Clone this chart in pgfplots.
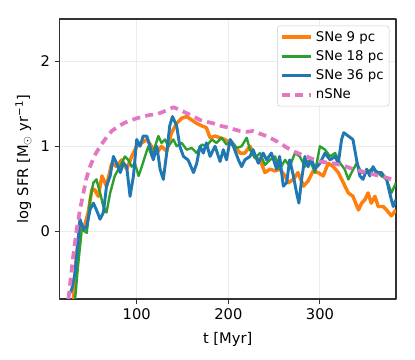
\documentclass[border=0pt]{standalone}
\usepackage{pgfplots}
\pgfplotsset{compat=1.18}
\usepackage{fontspec}
\setmainfont{DejaVu Sans}
\definecolor{c9}{HTML}{FF7F0E}
\definecolor{c18}{HTML}{2CA02C}
\definecolor{c36}{HTML}{1F77B4}
\definecolor{cn}{HTML}{E377C2}

\begin{document}
\begin{tikzpicture}
\path (-44.5pt,-45.5pt) rectangle (266.75pt,224.25pt);
\begin{axis}[
    scale only axis,
    width=252.5pt, height=210pt,
    at={(0,0)}, anchor=south west,
    xmin=15.5, xmax=383, ymin=-0.8, ymax=2.5,
    xtick={100,200,300}, ytick={0,1,2},
    axis line style={black!80, line width=0.8pt},
    tick style={black!80, line width=0.8pt},
    tick align=outside, tick pos=left,
    major tick length=3.5pt,
    grid=major, major grid style={black!8, line width=0.8pt},
    /pgf/number format/assume math mode=true,
    ticklabel style={font=\fontsize{11}{13}\selectfont},
    label style={font=\fontsize{11}{13}\selectfont},
    xlabel={t [Myr]},
    xlabel style={yshift=-3pt},
    ylabel={log SFR [M\textsubscript{$\odot$} yr\textsuperscript{−1}]},
    legend style={at={(rel axis cs:1,1)}, xshift=-5pt, yshift=-5pt, anchor=north east,
        draw=black!20, rounded corners=2pt, fill=white, fill opacity=0.9, text opacity=1,
        font=\fontsize{10}{12}\selectfont, row sep=1.5pt, inner xsep=2pt},
    legend cell align=left,
    legend image code/.code={\draw[#1] (0pt,0pt) -- (22pt,0pt);},
    line join=round,
]
\addplot[c9, line width=2.6pt] coordinates {
(31,-0.8) (34,-0.3) (38,0.06) (42,0.02) (47,0.22) (51,0.49) (54,0.49) (58,0.41)
(62,0.65) (67,0.53) (72.7,0.8) (78,0.76) (83.6,0.84) (89,0.73) (94.5,0.88) (100,1.0)
(105.5,1.04) (111,1.08) (116,1.0) (122,0.92) (127,1.0) (132.7,0.94) (138,1.16) (143.6,1.27)
(149,1.33) (154.5,1.35) (160,1.31) (165.5,1.27) (171,1.24) (176,1.22) (180,1.10) (185.5,1.12)
(191,1.10) (196,1.08) (202,1.04) (207,1.0) (212.7,0.92) (218,0.92) (223.6,1.0) (229,0.88)
(234.5,0.84) (240,0.69) (245.5,0.73) (251,0.71) (256,0.73) (262,0.65) (265.5,0.57) (271,0.61)
(276,0.69) (282,0.53) (287,0.59) (292.7,0.71) (298,0.69) (303.6,0.65) (309,0.80) (314.5,0.76)
(320,0.69) (325.5,0.57) (331,0.45) (336,0.41) (342,0.25) (345.5,0.33) (349,0.37) (352.5,0.45)
(356,0.33) (360,0.41) (363.6,0.29) (369,0.29) (372.7,0.25) (378,0.18) (383,0.25)
};
\addlegendentry{SNe 9 pc}
\addplot[c18, line width=1.8pt] coordinates {
(32.7,-0.8) (36,-0.4) (40,0.02) (45.5,-0.02) (49,0.37) (52.7,0.57) (56,0.61) (60,0.45)
(63.6,0.29) (67,0.22) (71,0.45) (76,0.65) (80,0.73) (83.6,0.8) (87,0.88) (90.7,0.84)
(94.5,0.76) (98,0.8) (102,0.65) (105.5,0.76) (109,0.88) (112.7,1.0) (116.4,0.88) (120,1.0)
(123.6,1.12) (127,1.04) (131,1.08) (134.5,1.0) (140,1.08) (143.6,1.0) (149,1.04) (154.5,0.96)
(160,0.98) (165.5,0.92) (171,1.02) (176,1.0) (182,1.08) (187,1.04) (192.7,1.10) (198,1.02)
(203.6,1.06) (209,0.98) (214.5,1.0) (220,1.10) (223.6,0.96) (229,0.86) (234.5,0.92) (240,0.78)
(245.5,0.84) (251,0.88) (256,0.73) (262,0.84) (267,0.76) (272.7,0.92) (278,0.88) (283.6,0.76)
(289,0.84) (294.5,0.69) (300,1.0) (305.5,0.96) (311,0.88) (316.5,0.92) (322,0.80) (327,0.73)
(331,0.61) (334.5,0.69) (340,0.8) (345.5,0.69) (351,0.69) (356,0.73) (361.5,0.71) (367,0.65)
(372.7,0.61) (378,0.45) (383,0.57)
};
\addlegendentry{SNe 18 pc}
\addplot[c36, line width=2.2pt] coordinates {
(25.5,-0.76) (29,-0.69) (32.7,-0.49) (36.4,-0.06) (38,0.14) (42,0.02) (45.5,0.06) (49,0.25)
(52.7,0.33) (56,0.25) (60,0.14) (63.6,0.22) (67,0.53) (71,0.65) (74.5,0.88) (78,0.8)
(82,0.69) (85.5,0.8) (89,0.76) (92.7,0.41) (96.4,0.65) (100,1.08) (103.6,1.0) (107,1.12)
(111,1.12) (114.5,1.0) (118,0.84) (122,1.0) (125.5,0.73) (129,0.61) (132.7,0.92) (136,1.24)
(139,1.35) (143.6,1.24) (147,1.0) (151,0.88) (156,0.84) (162,0.69) (165.5,0.8) (169,1.0)
(172.7,0.92) (176,1.04) (180,0.88) (185.5,1.0) (191,0.82) (194.5,0.96) (198,0.84) (202,1.08)
(205.5,1.0) (211,0.84) (214.5,0.76) (218,0.84) (223.6,0.88) (227,0.96) (232.7,0.80) (238,0.92)
(241.8,0.84) (247,0.92) (252.7,0.73) (256,0.88) (260,0.53) (263.6,0.57) (267,0.84) (271,0.65)
(274.5,0.45) (277,0.33) (280,0.61) (283.6,0.88) (287,0.76) (291,0.84) (294.5,0.73) (300,0.80)
(305.5,0.92) (311,0.84) (316.5,0.88) (320,0.80) (323.6,1.08) (326,1.16) (331,1.12) (336,1.08)
(340,0.84) (343.6,0.65) (347,0.61) (351,0.73) (354.5,0.65) (358,0.76) (361.5,0.69) (367,0.69)
(372.7,0.61) (377,0.41) (380,0.29) (383,0.37)
};
\addlegendentry{SNe 36 pc}
\addplot[cn, line width=2.8pt, dash pattern=on 6pt off 4pt] coordinates {
(25.5,-0.8) (30,-0.35) (34.5,0.02) (38,0.25) (41.8,0.45) (45,0.62) (49,0.76) (54,0.89)
(60,1.0) (66,1.09) (72.7,1.18) (78,1.22) (85.5,1.27) (92,1.30) (100,1.33) (107,1.35)
(114.5,1.37) (120,1.37) (125,1.39) (132,1.42) (140,1.46) (147,1.43) (154.5,1.39) (162,1.35)
(169,1.31) (176,1.29) (183.6,1.27) (192,1.24) (200,1.22) (206,1.20) (212.7,1.18) (220,1.17)
(227,1.18) (234,1.15) (241.8,1.12) (249,1.08) (256,1.04) (263,0.99) (271,0.94) (278,0.91)
(285.5,0.88) (292,0.85) (300,0.82) (307,0.81) (314.5,0.80) (322,0.78) (329,0.76) (336,0.73)
(343.6,0.71) (351,0.69) (358,0.67) (365,0.65) (372.7,0.63) (378,0.61) (383,0.59)
};
\addlegendentry{nSNe}
\end{axis}
\end{tikzpicture}
\end{document}
